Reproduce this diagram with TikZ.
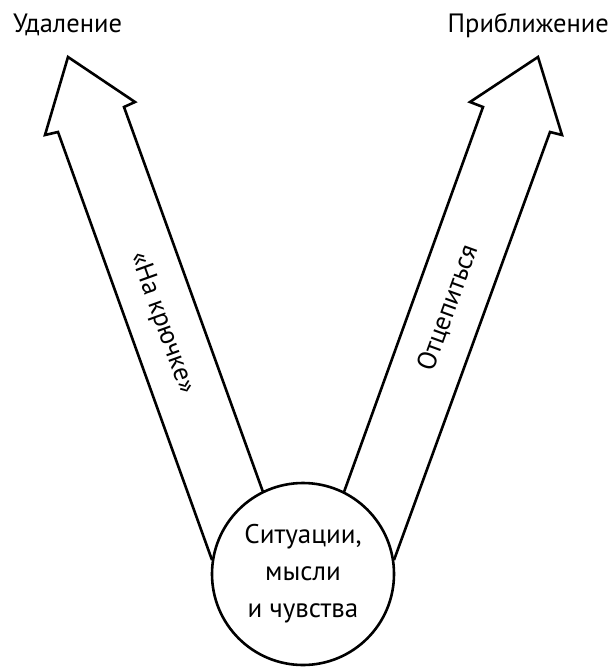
\documentclass[tikz,border=0pt]{standalone}
\usepackage{fontspec}
\setmainfont{PT Sans}
\begin{document}
\begin{tikzpicture}[x=1pt,y=-1pt,
  outline/.style={draw=black,line width=2.6pt,line join=miter},
  lbl/.style={font=\fontsize{26.5}{30}\selectfont,inner sep=0pt},
  circ/.style={circle,draw=black,line width=2.6pt,minimum size=182pt,inner sep=0pt,align=center,font=\fontsize{27}{37}\selectfont}]
\useasboundingbox (0,0) rectangle (615,667);
\node[circ] (c) at (303,574) {Ситуации,\\мысли\\и чувства};
% left arrow
\coordinate (l0) at (212,560);
\coordinate (l1) at (58,132);
\coordinate (l2) at (45,135);
\coordinate (l3) at (68,57);
\coordinate (l4) at (135,102);
\coordinate (l5) at (124,107);
\coordinate (l6) at (263,492);
\draw[outline] (l0) -- (l1) -- (l2) -- (l3) -- (l4) -- (l5) -- (l6);
% right arrow
\coordinate (r0) at (394,560);
\coordinate (r1) at (550,132);
\coordinate (r2) at (562,135);
\coordinate (r3) at (538,57);
\coordinate (r4) at (470,102);
\coordinate (r5) at (483,107);
\coordinate (r6) at (344,492);
\draw[outline] (r0) -- (r1) -- (r2) -- (r3) -- (r4) -- (r5) -- (r6);
\node[lbl,anchor=base west] (ud) at (13,32) {Удаление};
\node[lbl,anchor=base east] (pr) at (609,32) {Приближение};
\node[lbl,rotate=-70.2] (hook) at (162,323) {«На крючке»};
\node[lbl,rotate=70.1] (unhook) at (448,308) {Отцепиться};
\end{tikzpicture}
\end{document}
